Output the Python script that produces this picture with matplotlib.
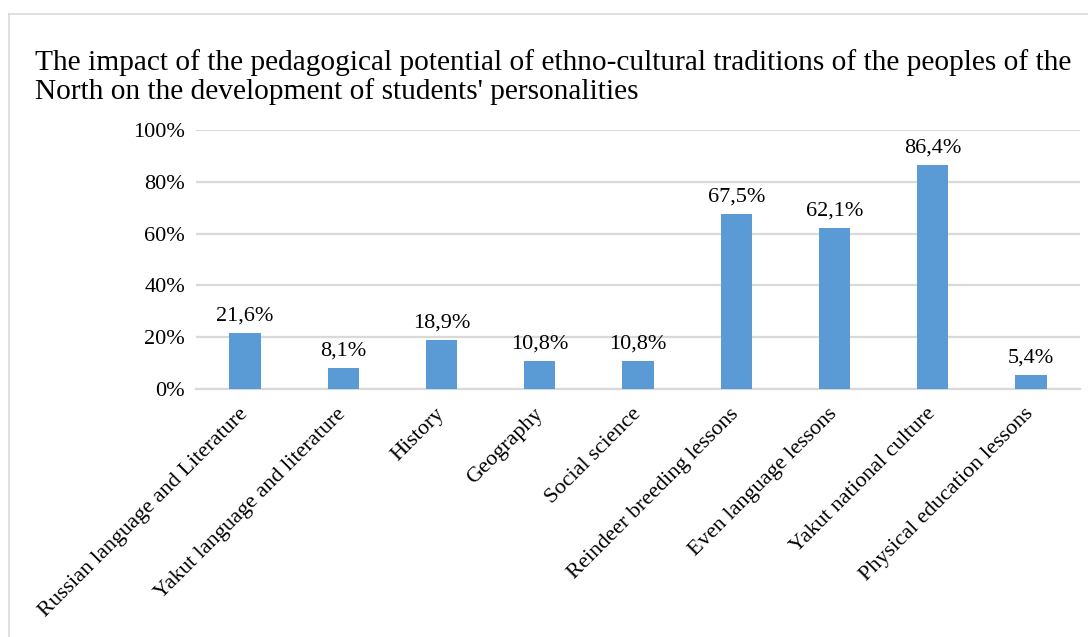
import matplotlib.pyplot as plt
from matplotlib.lines import Line2D

# data
subjects = ["Russian language and Literature", "Yakut language and literature",
            "History", "Geography", "Social science", "Reindeer breeding lessons",
            "Even language lessons", "Yakut national culture",
            "Physical education lessons"]
shares = [21.6, 8.1, 18.9, 10.8, 10.8, 67.5, 62.1, 86.4, 5.4]
yticks = [0, 20, 40, 60, 80, 100]

plt.rcParams['font.family'] = ['Liberation Serif', 'DejaVu Serif']
grid_c = '#d9d9d9'
bar_c = '#5b9bd5'

fig = plt.figure(figsize=(10.88, 6.37), dpi=100)

# chart frame (top and left edges only visible)
fig.add_artist(Line2D([9/1088, 1.0], [1-14/637, 1-14/637], transform=fig.transFigure,
                      color=grid_c, lw=1.2))
fig.add_artist(Line2D([9/1088, 9/1088], [0.0, 1-14/637], transform=fig.transFigure,
                      color=grid_c, lw=1.2))

fig.text(35/1088, 1-49/637,
         "The impact of the pedagogical potential of ethno-cultural traditions of the peoples of the\n"
         "North on the development of students' personalities",
         ha='left', va='top', fontsize=21.2, linespacing=1.1)

ax = fig.add_axes([196/1088, 1-389/637, 884/1088, 259/637])
x = range(len(subjects))
ax.bar(x, shares, width=0.32, color=bar_c, zorder=3)
for xi, v in zip(x, shares):
    ax.text(xi, v + 3, f"{v:.1f}%".replace('.', ','), ha='center', va='bottom',
            fontsize=16)

ax.set_xlim(-0.5, len(subjects) - 0.5)
ax.set_ylim(0, 100)
ax.set_yticks(yticks)
ax.set_yticklabels([f"{t}%" for t in yticks], fontsize=16)
ax.yaxis.grid(True, color=grid_c, lw=1.6, zorder=0)
ax.set_xticks(list(x))
ax.set_xticklabels(subjects, rotation=45, ha='right', va='center',
                   rotation_mode='anchor', fontsize=16)
ax.tick_params(length=0, pad=8)
ax.tick_params(axis='x', pad=16)
for s in ['top', 'right', 'left']:
    ax.spines[s].set_visible(False)
ax.spines['bottom'].set_color(grid_c)
ax.spines['bottom'].set_linewidth(1.6)

fig.savefig("out.png", dpi=100)
